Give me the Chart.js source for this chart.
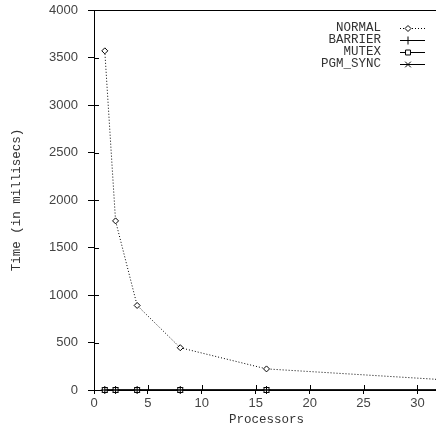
<!DOCTYPE html>
<html>
<head>
<meta charset="utf-8">
<script src="https://cdn.jsdelivr.net/npm/chart.js@4"></script>
<style>
  html, body { margin: 0; padding: 0; background: #fff; overflow: hidden; }
  #frame { width: 436px; height: 427px; overflow: hidden; }
  /* plot runs a few px past the right edge of the window */
  #wrap { width: 439px; height: 427px; }
</style>
</head>
<body>
<div id="frame"><div id="wrap"><canvas id="c"></canvas></div></div>
<script>
const processors = [1, 2, 4, 8, 16, 32];
const normal   = [3570, 1780, 890, 445, 222, 111];
const barrier  = [0, 0, 0, 0, 0, 0];
const mutex    = [0, 0, 0, 0, 0, 0];
const pgmSync  = [0, 0, 0, 0, 0, 0];
const seriesNames = ['NORMAL', 'BARRIER', 'MUTEX', 'PGM_SYNC'];
const xTicks = [0, 5, 10, 15, 20, 25, 30];

const monoFont = '"Liberation Mono", "DejaVu Sans Mono", monospace';
const tickFont = { family: '"Liberation Sans", Arial, sans-serif', size: 13 };

const pts = vals => processors.map((p, i) => ({ x: p, y: vals[i] }));

// top frame, inner tick marks, and a gnuplot-style key in the top corner
const frameAndKey = {
  id: 'frameAndKey',
  afterDraw(chart) {
    const { ctx, chartArea: a, scales } = chart;
    ctx.save();
    ctx.strokeStyle = '#000';
    ctx.lineWidth = 1;
    ctx.beginPath();
    ctx.moveTo(a.left, a.top + 0.5);
    ctx.lineTo(a.right, a.top + 0.5);
    scales.y.ticks.forEach(t => {
      const py = Math.round(scales.y.getPixelForValue(t.value)) + 0.5;
      ctx.moveTo(a.left, py);
      ctx.lineTo(a.left + 5, py);
    });
    scales.x.ticks.forEach(t => {
      const px = Math.round(scales.x.getPixelForValue(t.value)) + 0.5;
      ctx.moveTo(px, a.bottom);
      ctx.lineTo(px, a.bottom - 5);
    });
    ctx.stroke();

    ctx.font = '12.5px ' + monoFont;
    ctx.textAlign = 'right';
    ctx.textBaseline = 'middle';
    chart.data.datasets.forEach((ds, i) => {
      const y = 28 + i * 12;
      ctx.fillStyle = '#333';
      ctx.fillText(ds.label, 381, y);
      ctx.strokeStyle = '#000';
      ctx.setLineDash(ds.borderDash || []);
      ctx.beginPath();
      ctx.moveTo(400, y + 0.5);
      ctx.lineTo(425, y + 0.5);
      ctx.stroke();
      ctx.setLineDash([]);
      ctx.fillStyle = '#fff';
      Chart.helpers.drawPoint(ctx, {
        pointStyle: ds.pointStyle, radius: ds.pointRadius, borderWidth: 1
      }, 408, y + 0.5);
    });
    ctx.restore();
  }
};

const base = {
  borderColor: '#000',
  backgroundColor: '#fff',
  borderWidth: 1,
  pointBorderColor: '#000',
  pointBackgroundColor: '#fff',
  pointBorderWidth: 1,
  pointRadius: 3,
  tension: 0,
  clip: false
};

new Chart(document.getElementById('c'), {
  type: 'line',
  data: {
    datasets: [
      { ...base, label: seriesNames[0], data: pts(normal), borderDash: [1, 2], pointStyle: 'rectRot', pointRadius: 3 },
      { ...base, label: seriesNames[1], data: pts(barrier), pointStyle: 'cross', pointRadius: 4 },
      { ...base, label: seriesNames[2], data: pts(mutex), pointStyle: 'rect', pointRadius: 3.5 },
      { ...base, label: seriesNames[3], data: pts(pgmSync), pointStyle: 'crossRot', pointRadius: 4 }
    ]
  },
  options: {
    responsive: true,
    maintainAspectRatio: false,
    animation: false,
    layout: { autoPadding: false, padding: { top: 10, right: 0, left: 0, bottom: 0 } },
    plugins: { legend: { display: false }, tooltip: { enabled: false } },
    scales: {
      x: {
        type: 'linear', min: 0, max: 32,
        afterFit: s => { s.height = 37; s.paddingRight = 0; s.paddingLeft = 0; },
        afterBuildTicks: s => { s.ticks = xTicks.map(v => ({ value: v })); },
        ticks: { color: '#444', font: tickFont, padding: 2, maxRotation: 0 },
        grid: { drawOnChartArea: false, tickLength: 4, color: '#000' },
        border: { color: '#000' },
        title: { display: true, text: 'Processors', color: '#333', font: { family: monoFont, size: 12.5 }, padding: { top: -7, bottom: 0 } }
      },
      y: {
        min: 0, max: 4000,
        afterFit: s => { s.width = 94; s.paddingTop = 0; s.paddingBottom = 0; },
        ticks: { stepSize: 500, color: '#444', font: tickFont, padding: 10, callback: v => String(v) },
        grid: { drawOnChartArea: false, tickLength: 6, color: '#000' },
        border: { color: '#000' },
        title: { display: true, text: 'Time (in millisecs)', color: '#333', font: { family: monoFont, size: 12.5 }, padding: { top: 9, bottom: 0 } }
      }
    }
  },
  plugins: [frameAndKey]
});
</script>
</body>
</html>
